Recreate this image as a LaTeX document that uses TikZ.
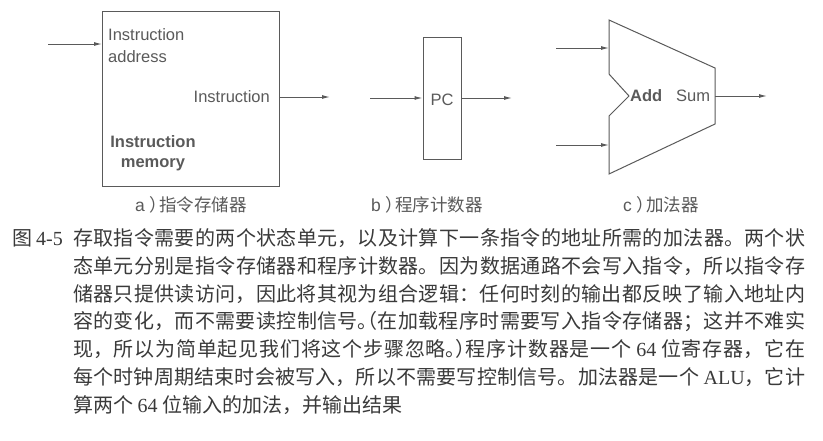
\documentclass[tikz,border=0pt]{standalone}
\usepackage{fontspec}
\setmainfont{Liberation Serif}
\setsansfont{Liberation Sans}
\newfontfamily\cjk{Noto Sans CJK SC}
\usetikzlibrary{arrows.meta}
\XeTeXlinebreaklocale "zh"
\XeTeXlinebreakskip=0pt plus 5pt
\definecolor{dg}{HTML}{5A5A5A}
\definecolor{tx}{HTML}{3A3A3A}
\newcommand\puncl[1]{\makebox[0.5em][l]{#1}}
\newcommand\puncr[1]{\makebox[0.5em][r]{#1}}
\newcommand\subpar{\ {\cjk\makebox[0.55em][l]{）}}}
\tikzset{
  wire/.style={draw=dg, line width=1pt, -{Latex[length=8pt,width=4pt]}},
  blk/.style={draw=dg, line width=1pt, inner sep=0pt},
  lbl/.style={text=dg, font=\sffamily\fontsize{16.5}{20}\selectfont, inner sep=0pt},
  blbl/.style={text=dg, font=\sffamily\bfseries\fontsize{16.5}{20}\selectfont, inner sep=0pt},
  sub/.style={text=dg, font=\sffamily\fontsize{17.5}{20}\selectfont, inner sep=0pt},
}
\begin{document}
\begin{tikzpicture}[x=1pt,y=-1pt]
\useasboundingbox (0,0) rectangle (823,440);
\fill[white] (0,0) rectangle (823,440);
% a) instruction memory
\node[blk, minimum width=177pt, minimum height=175pt, anchor=north west] (imem) at (102,11) {};
\node[lbl, anchor=base west] (ia1) at (108,40) {Instruction};
\node[lbl, anchor=base west] (ia2) at (108,62) {address};
\node[lbl, anchor=base east] (io) at (270,102) {Instruction};
\node[blbl, anchor=base] (im1) at (153,147) {Instruction};
\node[blbl, anchor=base] (im2) at (153,167) {memory};
\coordinate (ain) at (48,44);
\draw[wire] (ain) -- (ain -| imem.west);
\coordinate (aout) at (330,97);
\draw[wire] (aout -| imem.east) -- (aout);
% b) PC
\node[blk, minimum width=38pt, minimum height=122pt] (pc) at (442,98) {};
\node[lbl, anchor=base] (pcl) at (442,105) {PC};
\coordinate (pin) at (370,98);
\coordinate (pout) at (512,98);
\draw[wire] (pin) -- (pc.west);
\draw[wire] (pc.east) -- (pout);
% c) adder
\coordinate (t1) at (609,20);
\coordinate (t2) at (715,68);
\coordinate (t3) at (715,124);
\coordinate (t4) at (609,174);
\coordinate (n1) at (609,116);
\coordinate (n2) at (629,96);
\coordinate (n3) at (609,74);
\draw[dg, line width=1pt, line join=miter] (t1) -- (t2) -- (t3) -- (t4) -- (n1) -- (n2) -- (n3) -- cycle;
\coordinate (c1) at (556,48);
\coordinate (c2) at (556,145);
\coordinate (c3) at (767,96);
\draw[wire] (c1) -- (c1 -| t1);
\draw[wire] (c2) -- (c2 -| t1);
\draw[wire] (c3 -| t2) -- (c3);
\node[blbl, anchor=base west] (add) at (630,101) {Add};
\node[lbl, anchor=base west] (sum) at (676,101) {Sum};
% sub captions
\node[sub, anchor=base] (ca) at (191,211) {a\subpar{\cjk 指令存储器}};
\node[sub, anchor=base] (cb) at (427,211) {b\subpar{\cjk 程序计数器}};
\node[sub, anchor=base] (cc) at (661,211) {c\subpar{\cjk 加法器}};
% figure caption
\node[anchor=base west, inner sep=0pt, text=tx, font=\fontsize{20}{27.7}\selectfont] (fig) at (12,245.7) {{\cjk 图}\hspace{4pt}4-5};
\node[anchor=north west, inner sep=0pt, text width=732pt, align=justify, text=tx, font=\cjk\fontsize{20}{27.7}\selectfont] (body) at (73,226.3) {\noindent\strut
存取指令需要的两个状态单元，以及计算下一条指令的地址所需的加法器。两个状\linebreak
态单元分别是指令存储器和程序计数器。因为数据通路不会写入指令，所以指令存\linebreak
储器只提供读访问，因此将其视为组合逻辑：任何时刻的输出都反映了输入地址内\linebreak
容的变化，而不需要读控制信号\puncl{。}\puncr{（}在加载程序时需要写入指令存储器；这并不难实\linebreak
现，所以为简单起见我们将这个步骤忽略\puncl{。}\puncl{）}程序计数器是一个 {\rmfamily 64} 位寄存器，它在\linebreak
每个时钟周期结束时会被写入，所以不需要写控制信号。加法器是一个 {\rmfamily ALU}，它计\linebreak
算两个 {\rmfamily 64} 位输入的加法，并输出结果};
\end{tikzpicture}
\end{document}
